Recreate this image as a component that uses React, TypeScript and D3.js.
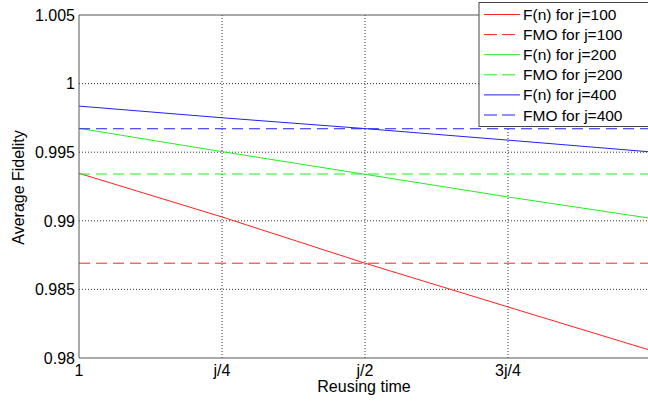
import React from "react";
import * as d3 from "d3";

// x positions as fraction of j (0 -> "1", 1 -> j)
const xPoints = [0, 0.25, 0.5, 0.75, 1.0];
const fn100 = [0.99346, 0.99028, 0.98691, 0.98372, 0.98055];
const fn200 = [0.99674, 0.99504, 0.99339, 0.99174, 0.99018];
const fn400 = [0.99836, 0.99751, 0.99672, 0.99588, 0.99502];
const fmo100 = 0.98691;
const fmo200 = 0.99341;
const fmo400 = 0.99671;

const xTickVals = [0, 0.25, 0.5, 0.75];
const xTickLabels = ["1", "j/4", "j/2", "3j/4"];
const yTickVals = [0.98, 0.985, 0.99, 0.995, 1.0, 1.005];
const yTickLabels = ["0.98", "0.985", "0.99", "0.995", "1", "1.005"];

const legendLabels = [
  "F(n) for j=100",
  "FMO for j=100",
  "F(n) for j=200",
  "FMO for j=200",
  "F(n) for j=400",
  "FMO for j=400",
];

const RED = "#ff2020";
const GREEN = "#20ee20";
const BLUE = "#2020ff";

export default function App() {
  const W = 648;
  const H = 405;
  const left = 79;
  const top = 15;
  const bottom = 358;
  const x = d3.scaleLinear().domain([0, 1]).range([left, 651]);
  const y = d3.scaleLinear().domain([0.98, 1.005]).range([bottom, top]);
  const line = d3
    .line<number>()
    .x((_, i) => x(xPoints[i]))
    .y((d) => y(d));

  const series = [
    { vals: fn100, fmo: fmo100, color: RED },
    { vals: fn200, fmo: fmo200, color: GREEN },
    { vals: fn400, fmo: fmo400, color: BLUE },
  ];
  const font = "Arial, 'Liberation Sans', sans-serif";
  const gridColor = "#333";
  const axisColor = "#555";
  const dash = "11,6";

  const legendItems = series.flatMap((s, i) => [
    { label: legendLabels[i * 2], color: s.color, dashed: false },
    { label: legendLabels[i * 2 + 1], color: s.color, dashed: true },
  ]);

  return (
    <svg width={W} height={H} style={{ position: "absolute", left: 0, top: 0, background: "#fff" }} fontFamily={font}>
      <defs>
        <clipPath id="plot">
          <rect x={left} y={top} width={W - left} height={bottom - top} />
        </clipPath>
      </defs>
      <rect x={0} y={0} width={W} height={H} fill="#fff" />
      {/* grid */}
      {yTickVals.slice(1, -1).map((v) => (
        <line key={"gy" + v} x1={left} x2={W} y1={y(v)} y2={y(v)} stroke={gridColor} strokeDasharray="1,2" strokeWidth={1} />
      ))}
      {xTickVals.slice(1).map((v) => (
        <line key={"gx" + v} x1={x(v)} x2={x(v)} y1={top} y2={bottom} stroke={gridColor} strokeDasharray="1,2" strokeWidth={1} />
      ))}
      {/* data */}
      <g clipPath="url(#plot)">
        {series.map((s, i) => (
          <g key={i}>
            <line x1={x(0)} x2={x(1)} y1={y(s.fmo)} y2={y(s.fmo)} stroke={s.color} strokeWidth={1} strokeDasharray={dash} />
            <path d={line(s.vals) || ""} fill="none" stroke={s.color} strokeWidth={1} />
          </g>
        ))}
      </g>
      {/* axes */}
      <line x1={left} x2={left} y1={top} y2={bottom} stroke={axisColor} strokeWidth={1} />
      <line x1={left} x2={W} y1={bottom} y2={bottom} stroke={axisColor} strokeWidth={1} />
      <line x1={left} x2={W} y1={top} y2={top} stroke={axisColor} strokeWidth={1} />
      {yTickVals.map((v, i) => (
        <text key={"ty" + v} x={left - 4} y={y(v)} dy="0.36em" textAnchor="end" fontSize={16} fill="#000">
          {yTickLabels[i]}
        </text>
      ))}
      {xTickVals.map((v, i) => (
        <text key={"tx" + v} x={x(v)} y={376} textAnchor="middle" fontSize={16} fill="#000">
          {xTickLabels[i]}
        </text>
      ))}
      <text x={364} y={392} textAnchor="middle" fontSize={16} fill="#000">
        Reusing time
      </text>
      <text transform={`translate(24,${(top + bottom) / 2 + 1}) rotate(-90)`} textAnchor="middle" fontSize={16} fill="#000">
        Average Fidelity
      </text>
      {/* legend */}
      <rect x={479} y={2.5} width={180} height={124} fill="#fff" stroke="#444" strokeWidth={1} />
      {legendItems.map((it, i) => {
        const yy = 14.5 + i * 20.1;
        return (
          <g key={"lg" + i}>
            <line x1={484} x2={520} y1={yy} y2={yy} stroke={it.color} strokeWidth={1} strokeDasharray={it.dashed ? "13,5" : undefined} />
            <text x={523} y={yy} dy="0.36em" fontSize={15.5} fill="#000">
              {it.label}
            </text>
          </g>
        );
      })}
    </svg>
  );
}
